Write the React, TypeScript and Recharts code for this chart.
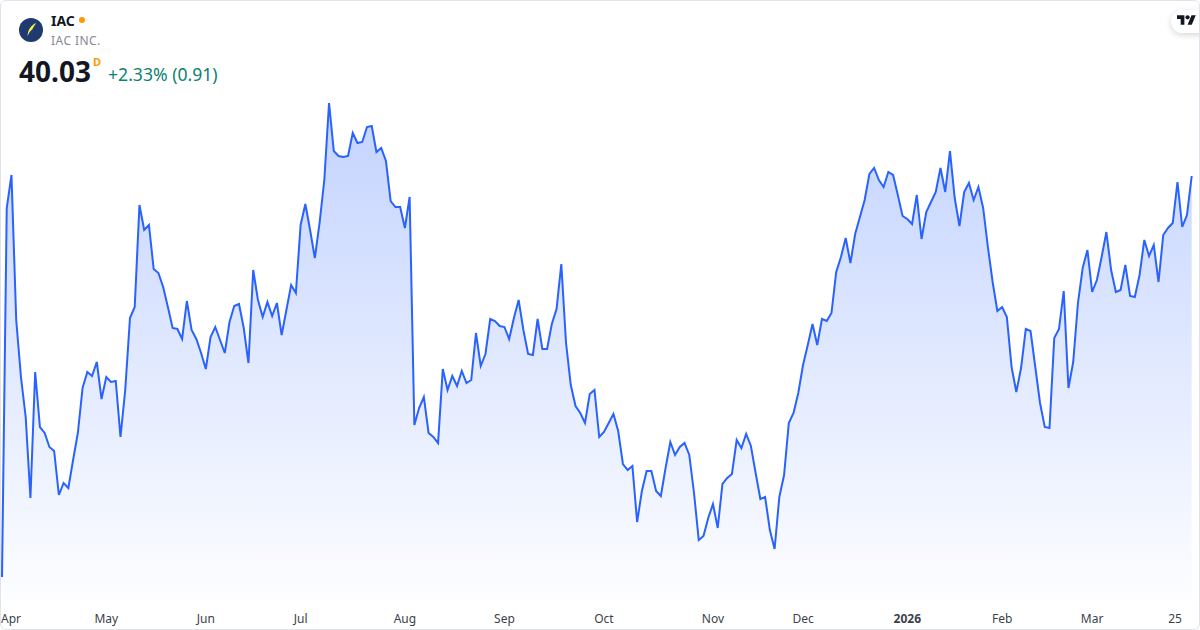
import React from "react";
import { ComposedChart, Area, XAxis, YAxis } from "recharts";

const apr = [32.01,39.39,40.05,37.15,36.01,35.21,33.59,36.11,35.01,34.89,34.61,34.53,33.65,33.89,33.79,34.35,34.89,35.79,36.11,36.03,36.31,35.57];
const may = [36.01,35.91,35.93,34.81,35.75,37.19,37.41,39.45,38.95,39.05,38.17,38.09,37.81,37.41,36.99,36.97,36.77,37.53,36.95,36.77,36.49];
const jun = [36.17,36.81,37.01,36.75,36.49,37.11,37.43,37.47,36.99,36.29,38.15,37.55,37.21,37.51,37.23,37.49,36.85,37.35,37.85,37.69];
const jul = [39.05,39.47,38.95,38.39,39.09,39.95,41.49,40.53,40.43,40.41,40.43,40.89,40.69,40.71,41.01,41.03,40.51,40.59,40.33,39.53,39.41,39.41];
const aug = [38.99,39.61,35.05,35.39,35.61,34.89,34.81,34.69,36.17,35.75,36.03,35.83,36.13,35.89,35.95,36.89,36.23,36.47,37.17,37.13,37.03];
const sep = [37.01,36.77,37.19,37.55,36.95,36.47,36.45,37.17,36.57,36.57,37.07,37.37,38.27,36.69,35.85,35.43,35.29,35.09,35.67,35.75,34.81];
const oct = [34.91,35.09,35.27,34.93,34.27,34.15,34.23,33.11,33.73,34.13,34.13,33.73,33.63,34.19,34.71,34.45,34.61,34.69,34.45,33.69,32.75,32.83,33.19];
const nov = [33.47,32.99,33.87,33.99,34.07,34.75,34.59,34.87,34.63,34.09,33.57,33.61,32.95,32.57,33.61,34.05,35.09,35.29,35.69];
const dec = [36.25,36.65,37.07,36.65,37.17,37.13,37.29,38.11,38.41,38.79,38.29,38.87,39.21,39.55,40.07,40.19,39.95,39.81,40.11,40.05,39.65,39.23];
const jan = [39.17,39.07,39.65,38.77,39.31,39.51,39.71,40.19,39.71,40.53,39.59,39.03,39.71,39.89,39.55,39.81,39.39,38.61,37.91,37.33];
const feb = [37.41,37.21,36.21,35.71,36.19,36.97,36.93,36.21,35.49,35.01,34.99,36.79,36.97,37.73,35.79,36.31,37.49,38.19,38.55];
const mar = [37.71,37.95,38.41,38.91,38.15,37.71,37.75,38.25,37.63,37.61,38.05,38.75,38.43,38.65,37.91,38.85,38.99,39.09,39.91,39.01,39.25,40.03];

const months = [apr, may, jun, jul, aug, sep, oct, nov, dec, jan, feb, mar];
const monthLabels = ["Apr", "May", "Jun", "Jul", "Aug", "Sep", "Oct", "Nov", "Dec", "2026", "Feb", "Mar"];
const lastLabel = "25";
const lastLabelIndex = 247.5;

const closes = months.flat();
const data = closes.map((close, index) => ({ index, close }));

const labelByTick = new Map<number, string>();
let start = 0;
months.forEach((m, i) => {
  labelByTick.set(start, monthLabels[i]);
  start += m.length;
});
labelByTick.set(lastLabelIndex, lastLabel);
const ticks = Array.from(labelByTick.keys());

const AxisTick = (props: any) => {
  const { x, y, payload } = props;
  const label = labelByTick.get(payload.value) ?? "";
  const first = payload.value === 0;
  return (
    <text
      x={first ? x - 1 : x}
      y={y}
      dy={15}
      textAnchor={first ? "start" : "middle"}
      fontFamily="'Noto Sans', sans-serif"
      fontSize={12}
      fontWeight={label === "2026" ? 700 : 400}
      fill="#3b3f4a"
    >
      {label}
    </text>
  );
};

export default function App() {
  return (
    <div style={{ position: "fixed", left: 0, top: 0, width: 1200, height: 630, background: "#fff", overflow: "hidden", fontFamily: "'Noto Sans', sans-serif" }}>
      <ComposedChart width={1200} height={630} data={data} margin={{ top: 0, right: 8.3, bottom: 0, left: 2 }}>
        <defs>
          <linearGradient id="areaFill" x1="0" y1="0" x2="0" y2="1">
            <stop offset="0%" stopColor="#2962ff" stopOpacity={0.28} />
            <stop offset="100%" stopColor="#2962ff" stopOpacity={0.01} />
          </linearGradient>
        </defs>
        <XAxis
          dataKey="index"
          type="number"
          domain={[0, closes.length - 1]}
          ticks={ticks}
          interval={0}
          axisLine={false}
          tickLine={false}
          height={30}
          tick={<AxisTick />}
        />
        <YAxis hide domain={[31.55, 43.55]} />
        <Area
          type="linear"
          dataKey="close"
          stroke="#2962ff"
          strokeWidth={2}
          fill="url(#areaFill)"
          fillOpacity={1}
          dot={false}
          activeDot={false}
          isAnimationActive={false}
        />
      </ComposedChart>

      <svg width={24} height={24} style={{ position: "absolute", left: 19, top: 18 }} viewBox="0 0 24 24">
        <circle cx={12} cy={12} r={12} fill="#1e3a6e" />
        <path d="M17 5 C12.5 7 9 11 8.5 18 C10 15 11 13 13.2 11.5 C14.5 9 16 7 17 5 Z" fill="#f6f04d" />
      </svg>

      <div style={{ position: "absolute", left: 51, top: 11, fontSize: 14, fontWeight: 700, color: "#131722", lineHeight: "19px" }}>IAC</div>
      <div style={{ position: "absolute", left: 79, top: 17, width: 6, height: 6, borderRadius: 3, background: "#ff9800" }} />
      <div style={{ position: "absolute", left: 51, top: 32, fontSize: 12, color: "#868993", letterSpacing: 0.45, lineHeight: "18px" }}>IAC INC.</div>
      <div style={{ position: "absolute", left: 19, top: 52, fontSize: 28, fontWeight: 700, color: "#131722", lineHeight: "38px" }}>40.03</div>
      <div style={{ position: "absolute", left: 93, top: 54, fontSize: 11, fontWeight: 700, color: "#ff9800", lineHeight: "15px" }}>D</div>
      <div style={{ position: "absolute", left: 108, top: 62, fontSize: 17.6, color: "#0b8270", lineHeight: "24px" }}>+2.33% (0.91)</div>

      <div style={{ position: "absolute", left: 1171, top: 10, width: 40, height: 23, borderRadius: 12, background: "#fff", boxShadow: "0 2px 6px rgba(0,0,0,0.16)" }} />
      <svg width={19} height={15} viewBox="0 0 36 28" style={{ position: "absolute", left: 1177, top: 13 }}>
        <path d="M14 22H7V11H0V4h14v18zM28 22h-8l7.5-18h8L28 22z" fill="#131722" />
        <circle cx={20} cy={8} r={4} fill="#131722" />
      </svg>

      <div style={{ position: "absolute", inset: 0, border: "1px solid #e0e3eb", borderRadius: 6, boxSizing: "border-box", pointerEvents: "none" }} />
    </div>
  );
}
